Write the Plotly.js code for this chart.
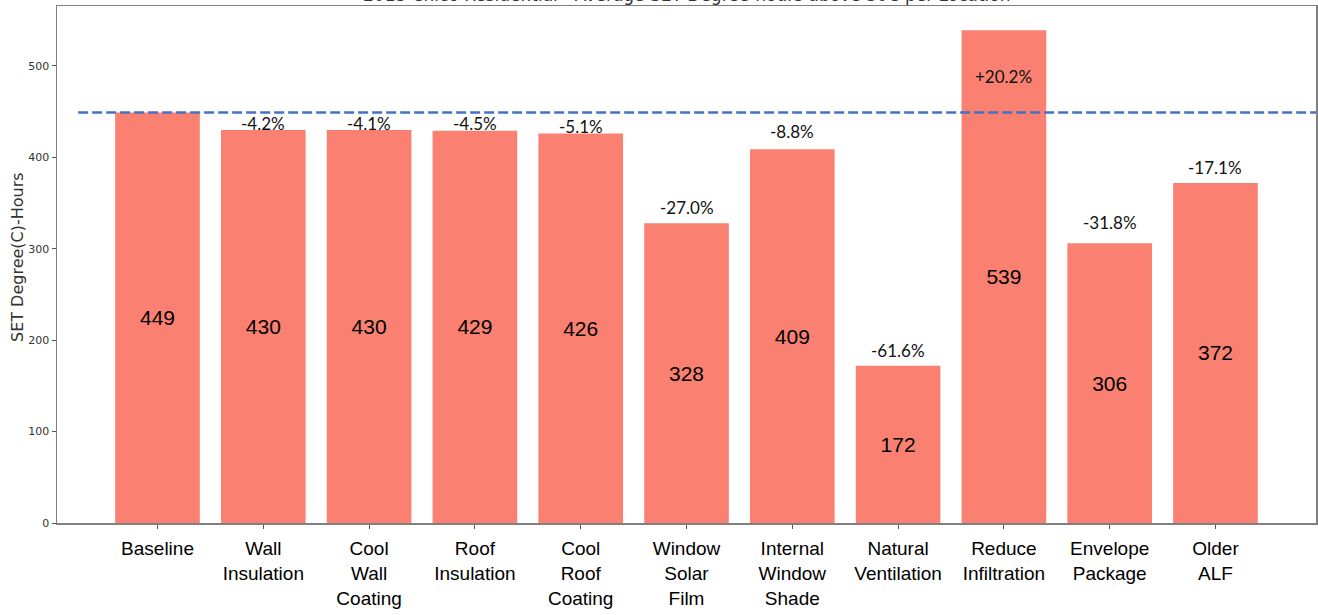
<!DOCTYPE html>
<html>
<head>
<meta charset="utf-8">
<script src="https://cdn.plot.ly/plotly-3.0.1.min.js"></script>
<style>
  html, body { margin: 0; padding: 0; background: #fff; }
  #chart { width: 1318px; height: 615px; }
</style>
</head>
<body>
<div id="chart"></div>
<script>
// Scenario names (tick labels) and average SET degree-hours per scenario
const categories = [
  "Baseline", "Wall<br>Insulation", "Cool<br>Wall<br>Coating", "Roof<br>Insulation",
  "Cool<br>Roof<br>Coating", "Window<br>Solar<br>Film", "Internal<br>Window<br>Shade",
  "Natural<br>Ventilation", "Reduce<br>Infiltration", "Envelope<br>Package", "Older<br>ALF"
];
const setHours = [449, 430, 430, 429, 426, 328, 409, 172, 539, 306, 372];
const changeLabels = ["", "-4.2%", "-4.1%", "-4.5%", "-5.1%", "-27.0%", "-8.8%", "-61.6%", "+20.2%", "-31.8%", "-17.1%"];
const baselineValue = 449;
const yTicks = [0, 100, 200, 300, 400, 500];

// Pixel lift of each change label above its bar top (styling only)
const labelLift = [0, 6, 6, 7, 7, 16, 18, 15, -46, 21, 15];

const xs = categories.map((_, i) => i);

const bars = {
  type: "bar",
  x: xs,
  y: setHours,
  width: 0.8,
  marker: { color: "#FA8072", line: { width: 0 } },
  text: setHours.map(String),
  textposition: "inside",
  insidetextanchor: "middle",
  textangle: 0,
  constraintext: "none",
  textfont: { family: "Liberation Sans, Arial, sans-serif", size: 21, color: "#000" },
  hoverinfo: "x+y",
  cliponaxis: false
};

const annotations = changeLabels.map((t, i) => ({
  x: i, y: setHours[i], xref: "x", yref: "y",
  text: t, showarrow: false,
  xanchor: "center", yanchor: "middle",
  yshift: labelLift[i],
  font: { family: "Lato, sans-serif", size: 17, color: "#111" }
})).filter(a => a.text !== "");

// chart title, mostly cut off by the top edge
annotations.push({
  xref: "paper", yref: "paper", x: 0.5, y: 1, yshift: 11,
  xanchor: "center", yanchor: "middle", showarrow: false,
  text: "2013 Chico Residential - Average SET Degree-hours above 30C per Location",
  font: { family: "DejaVu Sans, sans-serif", size: 17, color: "#333" }
});

// y-axis title
annotations.push({
  xref: "paper", yref: "paper", x: 0, y: 0.5145, xshift: -40,
  xanchor: "center", yanchor: "middle", showarrow: false, textangle: -90,
  text: "SET Degree(C)-Hours",
  font: { family: "DejaVu Sans, sans-serif", size: 16, color: "#333" }
});

const layout = {
  width: 1318, height: 615,
  margin: { l: 57, r: 2, t: 6, b: 92 },
  paper_bgcolor: "#fff", plot_bgcolor: "#fff",
  showlegend: false,
  xaxis: {
    range: [-0.95, 10.95],
    tickmode: "array", tickvals: xs, ticktext: categories,
    ticks: "outside", ticklen: 4, tickwidth: 1, tickcolor: "#555",
    ticklabelstandoff: 4,
    showline: true, linecolor: "#808080", linewidth: 1.5, mirror: true,
    showgrid: false, zeroline: false,
    tickfont: { family: "Liberation Sans, Arial, sans-serif", size: 19, color: "#000" },
    fixedrange: true
  },
  yaxis: {
    range: [0, 565.6],
    tickmode: "array", tickvals: yTicks,
    ticks: "outside", ticklen: 4, tickwidth: 1, tickcolor: "#555",
    showline: true, linecolor: "#808080", linewidth: 1.5, mirror: true,
    showgrid: false, zeroline: false,
    tickfont: { family: "DejaVu Sans, sans-serif", size: 11, color: "#333" },
    fixedrange: true
  },
  shapes: [{
    type: "line", xref: "x", yref: "y",
    x0: -0.75, x1: 10.95, y0: baselineValue, y1: baselineValue,
    line: { color: "#4472C4", width: 2.5, dash: "10px,4px" }
  }],
  annotations: annotations
};

Plotly.newPlot("chart", [bars], layout, { displayModeBar: false, staticPlot: true });
</script>
</body>
</html>
